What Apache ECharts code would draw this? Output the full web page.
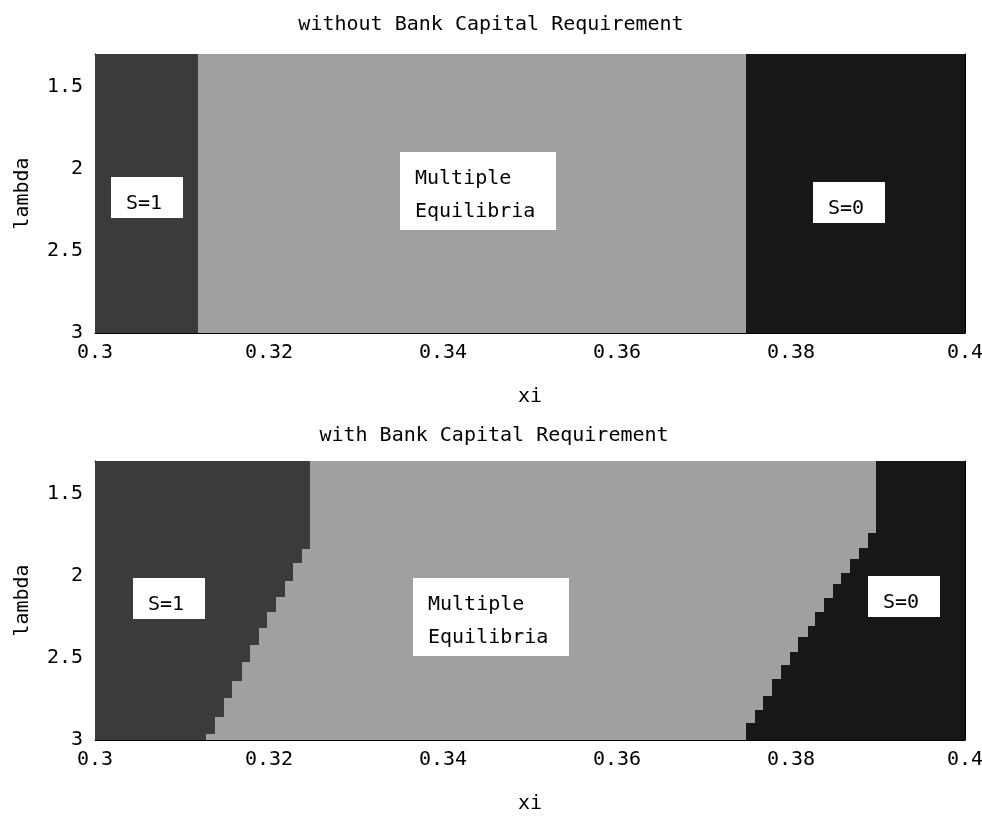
<!DOCTYPE html>
<html>
<head>
<meta charset="utf-8">
<script src="https://cdn.jsdelivr.net/npm/echarts@6/dist/echarts.min.js"></script>
<style>
  html, body { margin: 0; padding: 0; background: #fff; }
  #chart { width: 982px; height: 821px; }
</style>
</head>
<body>
<div id="chart"></div>
<script>
// ---- axes ----
const xiMin = 0.3, xiMax = 0.4, xiStep = 0.02;
const lambdaMin = 1.3, lambdaMax = 3.0;
const lambdaTicks = [1.5, 2, 2.5, 3];
const titles = ['without Bank Capital Requirement', 'with Bank Capital Requirement'];

// ---- panel 1: without capital requirement (region boundaries per lambda band) ----
const topLeftEdges = [1.3, 3.0];          // lambda band edges
const topLeftXi = [0.3118];               // xi boundary S=1 | multiple
const topRightEdges = [1.3, 3.0];
const topRightXi = [0.3748];              // xi boundary multiple | S=0

// ---- panel 2: with capital requirement ----
const botLeftEdges = [1.3, 1.836, 1.923, 2.029, 2.127, 2.218, 2.320, 2.421, 2.523, 2.639, 2.746, 2.862, 2.964, 3.0];
const botLeftXi = [0.3247, 0.3238, 0.3228, 0.3218, 0.3208, 0.3198, 0.3188, 0.3178, 0.3169, 0.3158, 0.3148, 0.3138, 0.3128];
const botRightEdges = [1.3, 1.741, 1.828, 1.897, 1.981, 2.050, 2.137, 2.222, 2.305, 2.374, 2.462, 2.543, 2.628, 2.732, 2.817, 2.898, 3.0];
const botRightXi = [0.3898, 0.3888, 0.3878, 0.3868, 0.3858, 0.3848, 0.3838, 0.3828, 0.3819, 0.3808, 0.3799, 0.3789, 0.3778, 0.3768, 0.3759, 0.3748];

// ---- annotation boxes (top-left corner, data coords) ----
const annotText = ['S=1', 'Multiple\nEquilibria', 'S=0'];
const annotTopXi = [0.3018, 0.3351, 0.3825];
const annotTopLambda = [2.05, 1.897, 2.08];
const annotBotXi = [0.3044, 0.3366, 0.3889];
const annotBotLambda = [2.013, 2.013, 2.001];

const FONT = "'DejaVu Sans Mono', monospace";
const COLORS = { s1: '#3b3b3b', multi: '#a0a0a0', s0: '#171717' };

function segValue(edges, vals, lam) {
  for (let i = 0; i < vals.length; i++) {
    if (lam >= edges[i] && lam < edges[i + 1]) return vals[i];
  }
  return vals[vals.length - 1];
}

function buildBands(lEdges, lXi, rEdges, rXi) {
  const cuts = Array.from(new Set(lEdges.concat(rEdges))).sort((a, b) => a - b);
  const s1 = [], multi = [], s0 = [];
  for (let i = 0; i < cuts.length - 1; i++) {
    const a = cuts[i], b = cuts[i + 1];
    const mid = (a + b) / 2;
    const L = segValue(lEdges, lXi, mid);
    const R = segValue(rEdges, rXi, mid);
    s1.push([a, b, xiMin, L]);
    multi.push([a, b, L, R]);
    s0.push([a, b, R, xiMax]);
  }
  return { s1, multi, s0 };
}

function rectRender(color) {
  return function (params, api) {
    const p0 = api.coord([api.value(2), api.value(0)]);
    const p1 = api.coord([api.value(3), api.value(1)]);
    const x0 = Math.round(Math.min(p0[0], p1[0])), x1 = Math.round(Math.max(p0[0], p1[0]));
    const y0 = Math.round(Math.min(p0[1], p1[1])), y1 = Math.round(Math.max(p0[1], p1[1]));
    return { type: 'rect', shape: { x: x0, y: y0, width: x1 - x0, height: y1 - y0 }, style: { fill: color } };
  };
}

function annotRender(params, api) {
  const p = api.coord([api.value(0), api.value(1)]);
  const txt = annotText[params.dataIndex];
  const lines = txt.split('\n');
  const maxLen = Math.max.apply(null, lines.map(s => s.length));
  const w = maxLen * 12 + 36;
  const h = lines.length === 1 ? 41 : 78;
  const children = [{ type: 'rect', shape: { x: 0, y: 0, width: w, height: h }, style: { fill: '#fff' } }];
  lines.forEach((ln, i) => {
    children.push({
      type: 'text', x: 15, y: (lines.length === 1 ? 27 : 27 + i * 33),
      style: { text: ln, fill: '#000', font: '20px ' + FONT, textAlign: 'left', textVerticalAlign: 'middle' }
    });
  });
  return { type: 'group', x: Math.round(p[0]), y: Math.round(p[1]), children };
}

const topBands = buildBands(topLeftEdges, topLeftXi, topRightEdges, topRightXi);
const botBands = buildBands(botLeftEdges, botLeftXi, botRightEdges, botRightXi);

const grids = [
  { left: 95, top: 54, width: 870, height: 279, outerBoundsMode: 'none', containLabel: false },
  { left: 95, top: 461, width: 870, height: 279, outerBoundsMode: 'none', containLabel: false }
];

const axisLineStyle = { show: true, onZero: false, lineStyle: { color: '#000', width: 1 } };
const tickStyle = { show: true, inside: true, length: 6, lineStyle: { color: '#000', width: 1 } };
const labelStyle = { color: '#000', fontFamily: FONT, fontSize: 20 };

function xAxes(gi) {
  return [
    {
      type: 'value', gridIndex: gi, min: xiMin, max: xiMax, interval: xiStep, position: 'bottom',
      name: 'xi', nameLocation: 'middle', nameGap: 54,
      nameTextStyle: { color: '#000', fontFamily: FONT, fontSize: 20 },
      axisLine: axisLineStyle, axisTick: tickStyle, splitLine: { show: false },
      axisLabel: Object.assign({ margin: 10, hideOverlap: false, formatter: v => String(+v.toFixed(2)) }, labelStyle)
    },
    {
      type: 'value', gridIndex: gi, min: xiMin, max: xiMax, interval: xiStep, position: 'top',
      axisLine: axisLineStyle, axisTick: tickStyle, splitLine: { show: false }, axisLabel: { show: false }
    }
  ];
}
function yAxes(gi) {
  return [
    {
      type: 'value', gridIndex: gi, min: lambdaMin, max: lambdaMax, inverse: true, position: 'left',
      name: 'lambda', nameLocation: 'middle', nameGap: 62, nameRotate: 90,
      nameTextStyle: { color: '#000', fontFamily: FONT, fontSize: 20 },
      axisLine: axisLineStyle, splitLine: { show: false },
      axisTick: Object.assign({ customValues: lambdaTicks }, tickStyle),
      axisLabel: Object.assign({ margin: 12, customValues: lambdaTicks, formatter: v => String(+v.toFixed(2)) }, labelStyle)
    },
    {
      type: 'value', gridIndex: gi, min: lambdaMin, max: lambdaMax, inverse: true, position: 'right',
      axisLine: axisLineStyle, splitLine: { show: false },
      axisTick: Object.assign({ customValues: lambdaTicks }, tickStyle),
      axisLabel: { show: false, customValues: lambdaTicks }
    }
  ];
}

function panelSeries(bands, xi, yi, axXi, axLam) {
  const base = { type: 'custom', xAxisIndex: xi, yAxisIndex: yi, encode: { x: [2, 3], y: [0, 1] }, clip: true, silent: true, animation: false };
  return [
    Object.assign({ renderItem: rectRender(COLORS.s1), data: bands.s1, z: 1 }, base),
    Object.assign({ renderItem: rectRender(COLORS.multi), data: bands.multi, z: 1 }, base),
    Object.assign({ renderItem: rectRender(COLORS.s0), data: bands.s0, z: 1 }, base),
    {
      type: 'custom', xAxisIndex: xi, yAxisIndex: yi, encode: { x: 0, y: 1 }, silent: true, animation: false, z: 5,
      renderItem: annotRender, data: axXi.map((v, i) => [v, axLam[i]])
    }
  ];
}

const option = {
  backgroundColor: '#fff',
  animation: false,
  title: [
    { text: titles[0], left: 486, top: 10, textAlign: 'center', textStyle: { color: '#000', fontFamily: FONT, fontSize: 20, fontWeight: 'normal' } },
    { text: titles[1], left: 489, top: 421, textAlign: 'center', textStyle: { color: '#000', fontFamily: FONT, fontSize: 20, fontWeight: 'normal' } }
  ],
  grid: grids,
  xAxis: xAxes(0).concat(xAxes(1)),
  yAxis: yAxes(0).concat(yAxes(1)),
  series: panelSeries(topBands, 0, 0, annotTopXi, annotTopLambda)
    .concat(panelSeries(botBands, 2, 2, annotBotXi, annotBotLambda))
};

const chart = echarts.init(document.getElementById('chart'), null, { renderer: 'canvas' });
chart.setOption(option);
</script>
</body>
</html>
